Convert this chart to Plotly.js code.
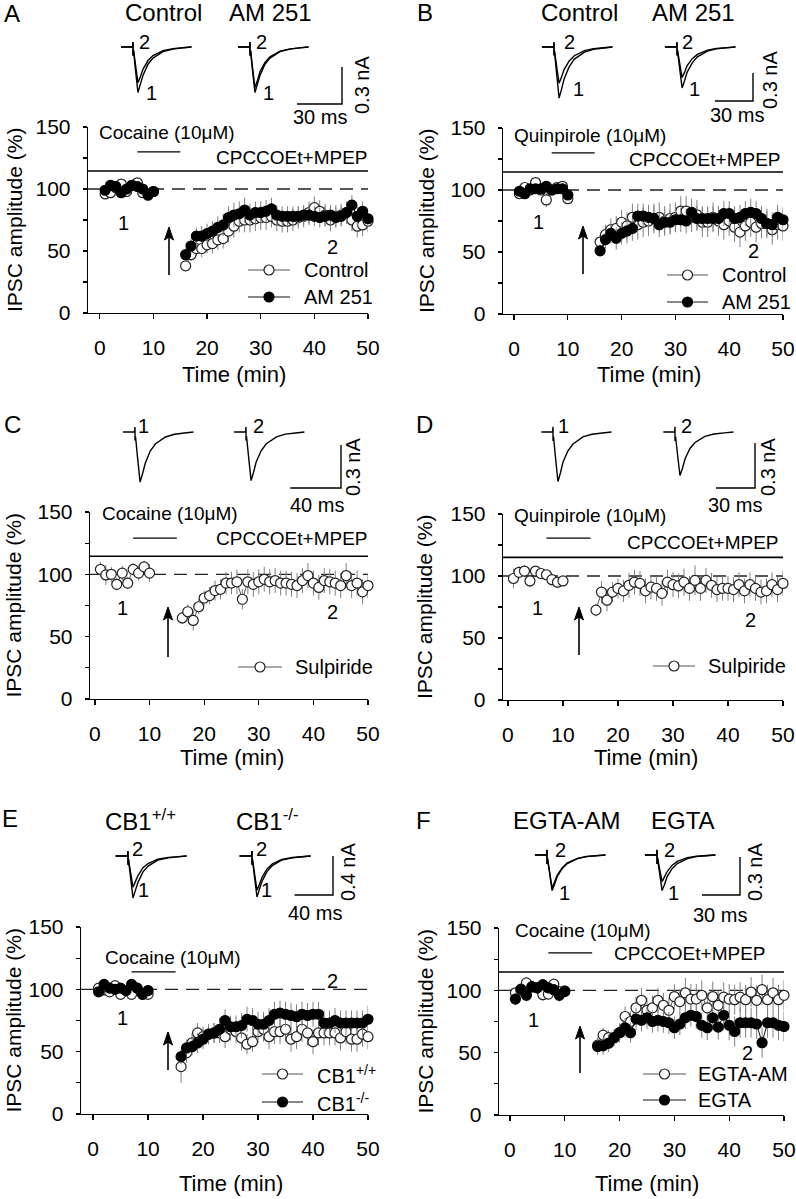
<!DOCTYPE html>
<html><head><meta charset="utf-8">
<script src="https://cdn.plot.ly/plotly-3.0.1.min.js"></script>
<style>body{margin:0;background:#fff}#chart{width:796px;height:1199px}</style>
</head><body><div id="chart"></div>
<script>
// ================= DATA =================
const timePre  = [1,2,3,4,5,6,7,8,9,10];
const timePost = [16,17,18,19,20,21,22,23,24,25,26,27,28,29,30,31,32,33,34,35,36,37,38,39,40,41,42,43,44,45,46,47,48,49,50];

// Panel A (cocaine) : Control (open) / AM 251 (filled)
const ctrlA_pre  = [96,97,101,104,98,103,105,97,96,98];
const ctrlA_post = [38,47,52,52,55,56,59,60,66,70,74,75,75,76,77,77,78,75,74,74,75,77,78,81,85,82,79,75,78,79,81,75,70,71,74];
const ctrlA_errPre  = [4,4,3,3,4,3,3,4,4,3];
const ctrlA_errPost = [4,5,6,7,7,8,8,8,9,9,9,10,10,10,10,10,9,9,9,9,9,9,9,9,9,9,9,9,9,9,9,9,9,9,9];
const amA_pre  = [99,103,102,97,100,103,102,100,95,98];
const amA_post = [47,54,62,62,64,66,69,71,77,79,80,83,79,81,81,82,84,79,78,78,78,78,79,79,78,77,78,79,77,78,81,87,78,82,76];
const amA_errPre  = [3,3,3,3,3,3,3,3,3,3];
const amA_errPost = [5,6,7,8,8,8,9,9,9,10,10,10,9,9,9,9,9,8,8,8,8,8,8,8,8,8,8,8,8,8,8,8,8,8,8];

// Panel B (quinpirole) : Control (open) / AM 251 (filled)
const ctrlB_pre  = [97,102,100,106,100,92,100,102,103,93];
const ctrlB_post = [58,64,68,69,74,71,78,72,74,75,77,78,75,77,78,83,83,78,80,74,74,78,75,72,75,70,66,71,74,70,73,73,68,72,71];
const ctrlB_errPre  = [4,3,3,3,3,6,3,3,3,3];
const ctrlB_errPost = [6,8,9,10,10,11,11,12,12,12,12,12,12,12,12,12,12,12,12,12,12,12,12,12,12,12,12,12,12,12,12,12,12,12,12];
const amB_pre  = [99,97,101,101,101,103,100,101,101,96];
const amB_post = [51,60,65,61,65,67,69,79,79,78,77,72,74,74,76,76,75,82,77,77,77,77,77,81,81,77,78,81,82,81,77,73,72,78,76];
const amB_errPre  = [3,3,3,3,3,3,3,3,3,3];
const amB_errPost = [5,7,8,9,9,10,10,10,10,10,10,10,10,10,10,10,10,11,10,10,10,10,10,10,10,10,10,10,11,10,10,10,10,10,10];

// Panel C (cocaine) : Sulpiride
const sulC_pre  = [104,99.5,100,92,101,93,104,101,106,101];
const sulC_post = [65,70,63,74,81,83,87,88,93,93,94,80,94,92,94,96,94,95,93,93,92,91,95,99,93,89.5,95,94,93,91,99,91,93,86,91];
const sulC_errPre  = [6,8,6,5,6,5,5,6,5,7];
const sulC_errPost = [5,6,8,6,6,7,8,8,9,9,10,8,10,10,10,10,10,10,10,10,10,10,10,10,10,10,10,10,10,10,10,10,10,10,10];

// Panel D (quinpirole) : Sulpiride
const sulD_pre  = [98,103,104,96,104,102,101,97,95,96];
const sulD_post = [72.5,87,80.5,87,90,88,92.5,95,94,88,91,90,86,95,93,92,95,90,96.5,90,96.5,92.5,89,90,90,89,93,88,93,90,87,88,93,89,94];
const sulD_errPre  = [8,5,5,5,4,4,4,5,5,4];
const sulD_errPost = [5,9,9,8,8,9,10,10,10,10,10,10,10,10,10,10,11,10,12,10,10,10,10,10,10,10,10,10,10,10,10,10,10,10,10];

// Panel E (cocaine) : CB1+/+ (open) / CB1-/- (filled)
const wtE_pre  = [101,99.5,98,103,96,99,96,101,96,96];
const wtE_post = [38,49,57,65,62,64,65,65,62,68,66,61,56,58,66,68,62,66,66,68,60,62,68,65,58,65,65,65,65,61,66,60,60,64,62];
const wtE_errPre  = [4,3,3,4,4,3,4,3,4,4];
const wtE_errPost = [13,8,8,8,8,8,8,8,9,9,9,10,8,8,9,10,10,10,10,10,10,10,10,10,10,10,10,10,10,10,10,10,10,10,10];
const koE_pre  = [98,104,101,100,101,99,104,101,96,99];
const koE_post = [46,53,54,57,60,64,65,68,75,70,70,71,76,75,72,72,75,80,81,80,79,78,80,79,80,80,73,73,75,73,73,73,73,73,76];
const koE_errPre  = [3,3,3,3,3,3,3,3,3,3];
const koE_errPost = [6,7,7,8,8,8,8,9,9,9,9,10,10,10,10,10,10,10,10,10,10,10,10,10,10,10,10,10,10,10,10,10,10,10,11];

// Panel F (cocaine) : EGTA-AM (open) / EGTA (filled)
const egtaAmF_pre  = [98,100,106,102.5,102,96.5,97,105,99,99.5];
const egtaAmF_post = [56,64,62,62,66,79,75,86,92,84,86,92,88,84,95,91,98,93,93,96,86,95,88,94.5,93,92.5,94.5,92.5,98.6,92,100.5,92.5,98,92.5,96];
const egtaAmF_errPre  = [4,4,4,4,4,5,4,4,4,4];
const egtaAmF_errPost = [6,6,6,6,6,8,8,9,10,10,10,10,10,10,10,10,12,12,12,12,12,12,12,12,12,12,12,12,12,12,12,12,12,12,12];
const egtaF_pre  = [93,101,96,103,102,104.5,102,100.5,96,99];
const egtaF_post = [55,55.5,57.6,62,66,70,66,77,76,78,75,76,75,74,70,73,78,80,79,72,70,78,70.5,80,72,67,74,74,74,73,58,74,74,72,71];
const egtaF_errPre  = [5,4,4,3,3,3,3,3,5,4];
const egtaF_errPost = [7,7,7,7,8,8,8,9,9,9,9,9,9,9,9,9,9,9,10,10,10,10,10,12,12,12,12,12,12,12,12,12,12,12,12];

// Drug application bar (min)
const drugBar = [7, 15];

// Example IPSC traces (time in ms, current in nA)
const tA = [-8,-0.3,0,0,0.4,1.5,2.5,3.3,5,6.7,10,13.3,20,26.7,33,39];
const tB = [-9.5,-0.3,0,0,0.4,1.8,3,4,6,8,12,16,24,31,39,46];
const tD = [-9,-0.3,0,0,0.4,1.7,2.9,3.8,5.8,7.7,11.5,15.4,23,30,38,45];
const tE = [-13,-0.4,0,0,0.5,2.3,4,5.2,7.8,10.4,15.6,21,31,42,52,61];
const ipscA_ctrl1 = [0,0,0.04,-0.07,-0.03,-0.17,-0.31,-0.37,-0.30,-0.23,-0.14,-0.09,-0.037,-0.017,-0.007,0];
const ipscA_ctrl2 = [0,0,0.04,-0.07,-0.03,-0.13,-0.25,-0.29,-0.24,-0.18,-0.11,-0.07,-0.029,-0.013,-0.006,0];
const ipscA_am1   = [0,0,0.04,-0.07,-0.03,-0.17,-0.31,-0.37,-0.30,-0.23,-0.14,-0.09,-0.037,-0.017,-0.007,0];
const ipscA_am2   = [0,0,0.04,-0.07,-0.03,-0.15,-0.28,-0.33,-0.27,-0.20,-0.125,-0.08,-0.033,-0.015,-0.007,0];
const ipscB_ctrl1 = [0,0,0.05,-0.09,-0.05,-0.25,-0.47,-0.55,-0.45,-0.34,-0.21,-0.13,-0.055,-0.025,-0.011,0];
const ipscB_ctrl2 = [0,0,0.05,-0.09,-0.04,-0.18,-0.33,-0.39,-0.32,-0.24,-0.15,-0.094,-0.039,-0.018,-0.008,0];
const ipscB_am1   = [0,0,0.05,-0.09,-0.044,-0.20,-0.37,-0.44,-0.36,-0.27,-0.17,-0.106,-0.044,-0.02,-0.009,0];
const ipscB_am2   = [0,0,0.05,-0.09,-0.033,-0.15,-0.28,-0.33,-0.27,-0.20,-0.125,-0.08,-0.033,-0.015,-0.007,0];
const ipscC_1 = [0,0,0.035,-0.06,-0.03,-0.16,-0.30,-0.35,-0.29,-0.22,-0.133,-0.084,-0.035,-0.016,-0.007,0];
const ipscC_2 = [0,0,0.035,-0.06,-0.03,-0.153,-0.29,-0.34,-0.28,-0.21,-0.13,-0.082,-0.034,-0.015,-0.007,0];
const ipscD_1 = [0,0,0.035,-0.06,-0.03,-0.15,-0.28,-0.33,-0.27,-0.20,-0.125,-0.08,-0.033,-0.015,-0.007,0];
const ipscD_2 = [0,0,0.035,-0.06,-0.03,-0.13,-0.25,-0.29,-0.24,-0.18,-0.11,-0.07,-0.029,-0.013,-0.006,0];
const ipscE_wt1 = [0,0,0.05,-0.09,-0.04,-0.19,-0.37,-0.43,-0.35,-0.27,-0.163,-0.103,-0.043,-0.019,-0.009,0];
const ipscE_wt2 = [0,0,0.05,-0.09,-0.032,-0.144,-0.27,-0.32,-0.26,-0.20,-0.12,-0.077,-0.032,-0.014,-0.006,0];
const ipscE_ko1 = [0,0,0.05,-0.09,-0.04,-0.19,-0.36,-0.42,-0.34,-0.26,-0.16,-0.10,-0.042,-0.019,-0.008,0];
const ipscE_ko2 = [0,0,0.05,-0.09,-0.035,-0.158,-0.30,-0.35,-0.29,-0.22,-0.133,-0.084,-0.035,-0.016,-0.007,0];
const ipscF_am1 = [0,0,0.04,-0.07,-0.028,-0.126,-0.24,-0.28,-0.23,-0.17,-0.106,-0.067,-0.028,-0.013,-0.006,0];
const ipscF_am2 = [0,0,0.04,-0.07,-0.026,-0.117,-0.22,-0.26,-0.21,-0.16,-0.10,-0.062,-0.026,-0.012,-0.005,0];
const ipscF_eg1 = [0,0,0.04,-0.07,-0.028,-0.126,-0.24,-0.28,-0.23,-0.17,-0.106,-0.067,-0.028,-0.013,-0.006,0];
const ipscF_eg2 = [0,0,0.04,-0.07,-0.021,-0.095,-0.18,-0.21,-0.17,-0.13,-0.08,-0.05,-0.021,-0.009,-0.004,0];

// ================= LAYOUT HELPERS =================
const W = 796, H = 1199;
const FONT = 'Liberation Sans, Arial, sans-serif';
const traces = [];
const layout = {
  width: W, height: H, margin: {l:0, r:0, t:0, b:0},
  paper_bgcolor: '#fff', plot_bgcolor: 'rgba(0,0,0,0)',
  font: {family: FONT, size: 20, color: '#000'},
  showlegend: false, annotations: [], shapes: []
};
function P(x, y) { return {x: x / W, y: 1 - y / H, xref: 'paper', yref: 'paper'}; }
function txt(text, x, y, size, extra) {
  layout.annotations.push(Object.assign({text: text, showarrow: false,
    font: {size: size, family: FONT, color: '#000'}, xanchor: 'center', yanchor: 'middle'}, P(x, y), extra || {}));
}
function arrow(x, yTail, yHead) {
  const X = v => v / W, Y = v => 1 - v / H;
  layout.shapes.push({type: 'line', xref: 'paper', yref: 'paper', x0: X(x), x1: X(x), y0: Y(yTail), y1: Y(yHead + 8),
    line: {color: '#000', width: 1.6}});
  layout.shapes.push({type: 'path', xref: 'paper', yref: 'paper',
    path: 'M' + X(x - 4.5) + ',' + Y(yHead + 13) + ' L' + X(x) + ',' + Y(yHead) + ' L' + X(x + 4.5) + ',' + Y(yHead + 13) +
          ' L' + X(x) + ',' + Y(yHead + 10) + ' Z',
    fillcolor: '#000', line: {color: '#000', width: 1}});
}
function ax(n) { return n === 1 ? '' : String(n); }

let axisN = 0;
// hidden axes ; (ox, oy) = pixel of data origin
function hiddenAxes(xr, yr, ox, oy, pxX, pxY) {
  axisN += 1; const s = ax(axisN);
  const left = ox + xr[0] * pxX, right = ox + xr[1] * pxX;
  const top = oy - yr[1] * pxY, bottom = oy - yr[0] * pxY;
  layout['xaxis' + s] = {domain: [left / W, right / W], range: xr, anchor: 'y' + s, visible: false, fixedrange: true};
  layout['yaxis' + s] = {domain: [1 - bottom / H, 1 - top / H], range: yr, anchor: 'x' + s, visible: false, fixedrange: true};
  return s;
}
function seriesStyle(open) {
  return {
    line: {color: open ? '#555' : '#111', width: 1},
    marker: {symbol: 'circle', size: 10, color: open ? '#fff' : '#000', line: {color: open ? '#222' : '#000', width: 1.2}}
  };
}
// hand-drawn legend entry: sample line with marker + real text
function legendItem(name, open, x0, x1, y, tx) {
  const s = hiddenAxes([-3, x1 - x0 + 3], [-6, 6], x0, y, 1, 1);
  const st = seriesStyle(open);
  traces.push({type: 'scatter', mode: 'lines', x: [0, x1 - x0], y: [0, 0],
    xaxis: 'x' + s, yaxis: 'y' + s, showlegend: false, hoverinfo: 'skip', cliponaxis: false, line: st.line});
  traces.push({type: 'scatter', mode: 'markers', x: [(x1 - x0) / 2], y: [0],
    xaxis: 'x' + s, yaxis: 'y' + s, showlegend: false, hoverinfo: 'skip', cliponaxis: false, marker: st.marker});
  txt(name, tx, y, 20, {xanchor: 'left'});
}

function mainPanel(cfg) {
  axisN += 1; const n = axisN, s = ax(n);
  layout['xaxis' + s] = {
    domain: [cfg.xl / W, cfg.xr / W], range: [cfg.xmin, 50], anchor: 'y' + s,
    showline: true, linecolor: '#000', linewidth: 1.3, ticks: 'outside', ticklen: 5,
    tickwidth: 1.3, tickcolor: '#000', tick0: 0, dtick: 10, showgrid: false, zeroline: false,
    tickfont: {size: 21, family: FONT, color: '#000'}, ticklabelstandoff: 10, fixedrange: true
  };
  layout['yaxis' + s] = {
    domain: [1 - cfg.yb / H, 1 - cfg.yt / H], range: [0, 150], anchor: 'x' + s,
    showline: true, linecolor: '#000', linewidth: 1.3, ticks: 'outside', ticklen: 4,
    tickwidth: 1.3, tickcolor: '#000', tick0: 0, dtick: 50, showgrid: false, zeroline: false,
    minor: {dtick: 25, ticks: 'outside', ticklen: 4, tickwidth: 1.2, tickcolor: '#000', showgrid: false},
    tickfont: {size: 21, family: FONT, color: '#000'}, ticklabelstandoff: 8, fixedrange: true
  };
  // reference lines
  if (cfg.cpcc != null) {
    layout.shapes.push({type: 'line', xref: 'x' + s + ' domain', yref: 'y' + s, x0: 0, x1: 1,
      y0: cfg.cpcc, y1: cfg.cpcc, line: {color: '#000', width: 1.6}});
  }
  layout.shapes.push({type: 'line', xref: 'x' + s + ' domain', yref: 'y' + s, x0: 0, x1: 1,
    y0: 100, y1: 100, line: {color: '#222', width: 1.3, dash: '13px,8px'}, layer: 'below'});
  layout.shapes.push({type: 'line', xref: 'x' + s, yref: 'y' + s, x0: drugBar[0], x1: drugBar[1],
    y0: cfg.barY, y1: cfg.barY, line: {color: '#000', width: 1.3}});
  cfg.series.forEach(function (sr) {
    const st = seriesStyle(sr.open);
    traces.push({
      type: 'scatter', mode: 'lines+markers', name: sr.name, showlegend: false,
      xaxis: 'x' + s, yaxis: 'y' + s, cliponaxis: false,
      x: timePre.concat([null], timePost), y: sr.pre.concat([null], sr.post),
      connectgaps: false, line: st.line, marker: st.marker,
      error_y: {type: 'data', array: sr.errPre.concat([null], sr.errPost), visible: true,
                color: '#808080', thickness: 1, width: 0}
    });
  });
  cfg.series.forEach(function (sr, i) {
    legendItem(sr.name, sr.open, cfg.leg.x0, cfg.leg.x1, cfg.leg.ys[i], cfg.leg.tx);
  });
  // axis titles
  txt('IPSC amplitude (%)', cfg.ytx, (cfg.yt + cfg.yb) / 2, 21, {textangle: -90});
  txt('Time (min)', (cfg.x0px + cfg.xr) / 2, cfg.xtY, 22);
  // drug texts
  txt(cfg.drug.text, cfg.drug.x, cfg.drug.y, 19, {xanchor: 'left'});
  if (cfg.cpTxt) txt('CPCCOEt+MPEP', cfg.cpTxt.x, cfg.cpTxt.y, 19, {xanchor: cfg.cpTxt.anchor});
  txt('1', cfg.l1[0], cfg.l1[1], 20);
  txt('2', cfg.l2[0], cfg.l2[1], 20);
  arrow(cfg.arrow[0], cfg.arrow[1], cfg.arrow[2]);
}

function inset(t, ys, artX, baseY, pxMs, pxNA) {
  let mn = 0, mx = 0;
  ys.forEach(a => a.forEach(v => { mn = Math.min(mn, v); mx = Math.max(mx, v); }));
  const s = hiddenAxes([t[0] - 1, t[t.length - 1] + 1], [mn - 0.03, mx + 0.03], artX, baseY, pxMs, pxNA);
  ys.forEach(a => traces.push({type: 'scatter', mode: 'lines', x: t, y: a, xaxis: 'x' + s, yaxis: 'y' + s,
    showlegend: false, hoverinfo: 'skip', line: {color: '#000', width: 1.4}}));
}
function scaleBar(ms, nA, cx, cy, pxMs, pxNA, msTxt, nATxt) {
  const s = hiddenAxes([-2, ms + 2], [-0.03, nA + 0.03], cx - ms * pxMs, cy, pxMs, pxNA);
  traces.push({type: 'scatter', mode: 'lines', x: [0, ms, ms], y: [0, 0, nA], xaxis: 'x' + s, yaxis: 'y' + s,
    showlegend: false, hoverinfo: 'skip', line: {color: '#000', width: 1.4}});
  txt(ms + ' ms', msTxt[0], msTxt[1], 20);
  txt(nA + ' nA', nATxt[0], nATxt[1], 20, {textangle: -90});
}

// ================= PANELS =================
mainPanel({xl: 88, xr: 368, x0px: 100, xmin: -2.2, yt: 127, yb: 313, ytx: 14, xtY: 374,
  series: [
    {name: 'Control', open: true, pre: ctrlA_pre, post: ctrlA_post, errPre: ctrlA_errPre, errPost: ctrlA_errPost},
    {name: 'AM 251', open: false, pre: amA_pre, post: amA_post, errPre: amA_errPre, errPost: amA_errPost}],
  leg: {x0: 248, x1: 290, tx: 302, ys: [270, 297]}, cpcc: 114.5, barY: 130,
  drug: {text: 'Cocaine (10μM)', x: 97, y: 133}, cpTxt: {x: 370, y: 157, anchor: 'right'},
  l1: [123, 223], l2: [332, 247], arrow: [169, 275, 227]});
mainPanel({xl: 503, xr: 783, x0px: 514, xmin: -2.05, yt: 128, yb: 314, ytx: 427, xtY: 374,
  series: [
    {name: 'Control', open: true, pre: ctrlB_pre, post: ctrlB_post, errPre: ctrlB_errPre, errPost: ctrlB_errPost},
    {name: 'AM 251', open: false, pre: amB_pre, post: amB_post, errPre: amB_errPre, errPost: amB_errPost}],
  leg: {x0: 667, x1: 708, tx: 720, ys: [275, 302]}, cpcc: 114.5, barY: 130,
  drug: {text: 'Quinpirole (10μM)', x: 512, y: 135}, cpTxt: {x: 783, y: 160, anchor: 'right'},
  l1: [538, 222], l2: [753, 251], arrow: [583, 274, 226]});
mainPanel({xl: 90, xr: 368, x0px: 95, xmin: -0.9, yt: 512, yb: 699, ytx: 13, xtY: 757,
  series: [
    {name: 'Sulpiride', open: true, pre: sulC_pre, post: sulC_post, errPre: sulC_errPre, errPost: sulC_errPost}],
  leg: {x0: 238, x1: 282, tx: 293, ys: [667]}, cpcc: 114.5, barY: 129,
  drug: {text: 'Cocaine (10μM)', x: 100, y: 514}, cpTxt: {x: 370, y: 538, anchor: 'right'},
  l1: [122, 608], l2: [332, 612], arrow: [168, 657, 607]});
mainPanel({xl: 503, xr: 783, x0px: 508, xmin: -0.9, yt: 514, yb: 700, ytx: 424, xtY: 757,
  series: [
    {name: 'Sulpiride', open: true, pre: sulD_pre, post: sulD_post, errPre: sulD_errPre, errPost: sulD_errPost}],
  leg: {x0: 653, x1: 695, tx: 706, ys: [666]}, cpcc: 115, barY: 130.6,
  drug: {text: 'Quinpirole (10μM)', x: 512, y: 515}, cpTxt: {x: 781, y: 542, anchor: 'right'},
  l1: [537, 608], l2: [750, 620], arrow: [579, 655, 607]});
mainPanel({xl: 81, xr: 368, x0px: 93, xmin: -2.2, yt: 927, yb: 1114, ytx: 13, xtY: 1183,
  series: [
    {name: 'CB1<sup>+/+</sup>', open: true, pre: wtE_pre, post: wtE_post, errPre: wtE_errPre, errPost: wtE_errPost},
    {name: 'CB1<sup>-/-</sup>', open: false, pre: koE_pre, post: koE_post, errPre: koE_errPre, errPost: koE_errPost}],
  leg: {x0: 262, x1: 303, tx: 315, ys: [1074, 1102]}, cpcc: null, barY: 114,
  drug: {text: 'Cocaine (10μM)', x: 103, y: 957}, cpTxt: null,
  l1: [122, 1018], l2: [332, 981], arrow: [168, 1070, 1032]});
mainPanel({xl: 499, xr: 784, x0px: 510, xmin: -2.0, yt: 928, yb: 1115, ytx: 425, xtY: 1183,
  series: [
    {name: 'EGTA-AM', open: true, pre: egtaAmF_pre, post: egtaAmF_post, errPre: egtaAmF_errPre, errPost: egtaAmF_errPost},
    {name: 'EGTA', open: false, pre: egtaF_pre, post: egtaF_post, errPre: egtaF_errPre, errPost: egtaF_errPost}],
  leg: {x0: 643, x1: 686, tx: 696, ys: [1074, 1100]}, cpcc: 114.7, barY: 130,
  drug: {text: 'Cocaine (10μM)', x: 513, y: 930}, cpTxt: {x: 690, y: 953, anchor: 'center'},
  l1: [533, 1020], l2: [747, 1053], arrow: [580, 1073, 1026]});

// ---- example traces / scale bars / headers ----
// A
inset(tA, [ipscA_ctrl1, ipscA_ctrl2], 133, 47, 1.5, 123);
inset(tA, [ipscA_am1, ipscA_am2], 250, 47, 1.5, 123);
scaleBar(30, 0.3, 342, 104, 1.5, 123, [320, 117], [362, 85]);
txt('2', 144, 42, 20); txt('1', 151, 93, 20); txt('2', 261, 42, 20); txt('1', 268, 93, 20);
txt('A', 12, 13, 24); txt('Control', 163, 12, 24); txt('AM 251', 270, 12, 24);
// B
inset(tB, [ipscB_ctrl1, ipscB_ctrl2], 554, 47, 1.27, 93);
inset(tB, [ipscB_am1, ipscB_am2], 677, 47, 1.27, 93);
scaleBar(30, 0.3, 753, 101, 1.27, 93, [737, 115], [770, 80]);
txt('2', 569, 42, 20); txt('1', 578, 89, 20); txt('2', 687, 42, 20); txt('1', 694, 89, 20);
txt('B', 425, 12, 24); txt('Control', 579, 12, 24); txt('AM 251', 693, 12, 24);
// C
inset(tB, [ipscC_1], 135, 432, 1.27, 143);
inset(tB, [ipscC_2], 246, 432, 1.27, 143);
scaleBar(40, 0.3, 341, 488, 1.27, 143, [317, 505], [353, 467]);
txt('1', 143, 426, 20); txt('2', 258, 426, 20);
txt('C', 12, 425, 24);
// D
inset(tD, [ipscD_1], 553, 432, 1.3, 150);
inset(tD, [ipscD_2], 675, 432, 1.3, 150);
scaleBar(30, 0.3, 755, 488, 1.3, 150, [735, 505], [768, 467]);
txt('1', 563, 426, 20); txt('2', 686, 426, 20);
txt('D', 425, 425, 24);
// E
inset(tE, [ipscE_wt1, ipscE_wt2], 128, 856, 0.96, 97.5);
inset(tE, [ipscE_ko1, ipscE_ko2], 252, 856, 0.96, 97.5);
scaleBar(40, 0.4, 333, 895, 0.96, 97.5, [315, 913], [348, 872]);
txt('2', 137, 849, 20); txt('1', 143, 890, 20); txt('2', 261, 849, 20); txt('1', 266, 890, 20);
txt('E', 10, 818, 24); txt('CB1<sup>+/+</sup>', 140, 820, 24); txt('CB1<sup>-/-</sup>', 267, 820, 24);
// F
inset(tB, [ipscF_am1, ipscF_am2], 547, 855, 1.27, 127);
inset(tB, [ipscF_eg1, ipscF_eg2], 657, 855, 1.27, 127);
scaleBar(30, 0.3, 740, 895, 1.27, 127, [720, 915], [755, 872]);
txt('2', 560, 850, 20); txt('1', 564, 893, 20); txt('2', 669, 850, 20); txt('1', 673, 893, 20);
txt('F', 423, 820, 24); txt('EGTA-AM', 567, 820, 24); txt('EGTA', 683, 820, 24);

Plotly.newPlot('chart', traces, layout, {staticPlot: true, displayModeBar: false});
</script></body></html>
